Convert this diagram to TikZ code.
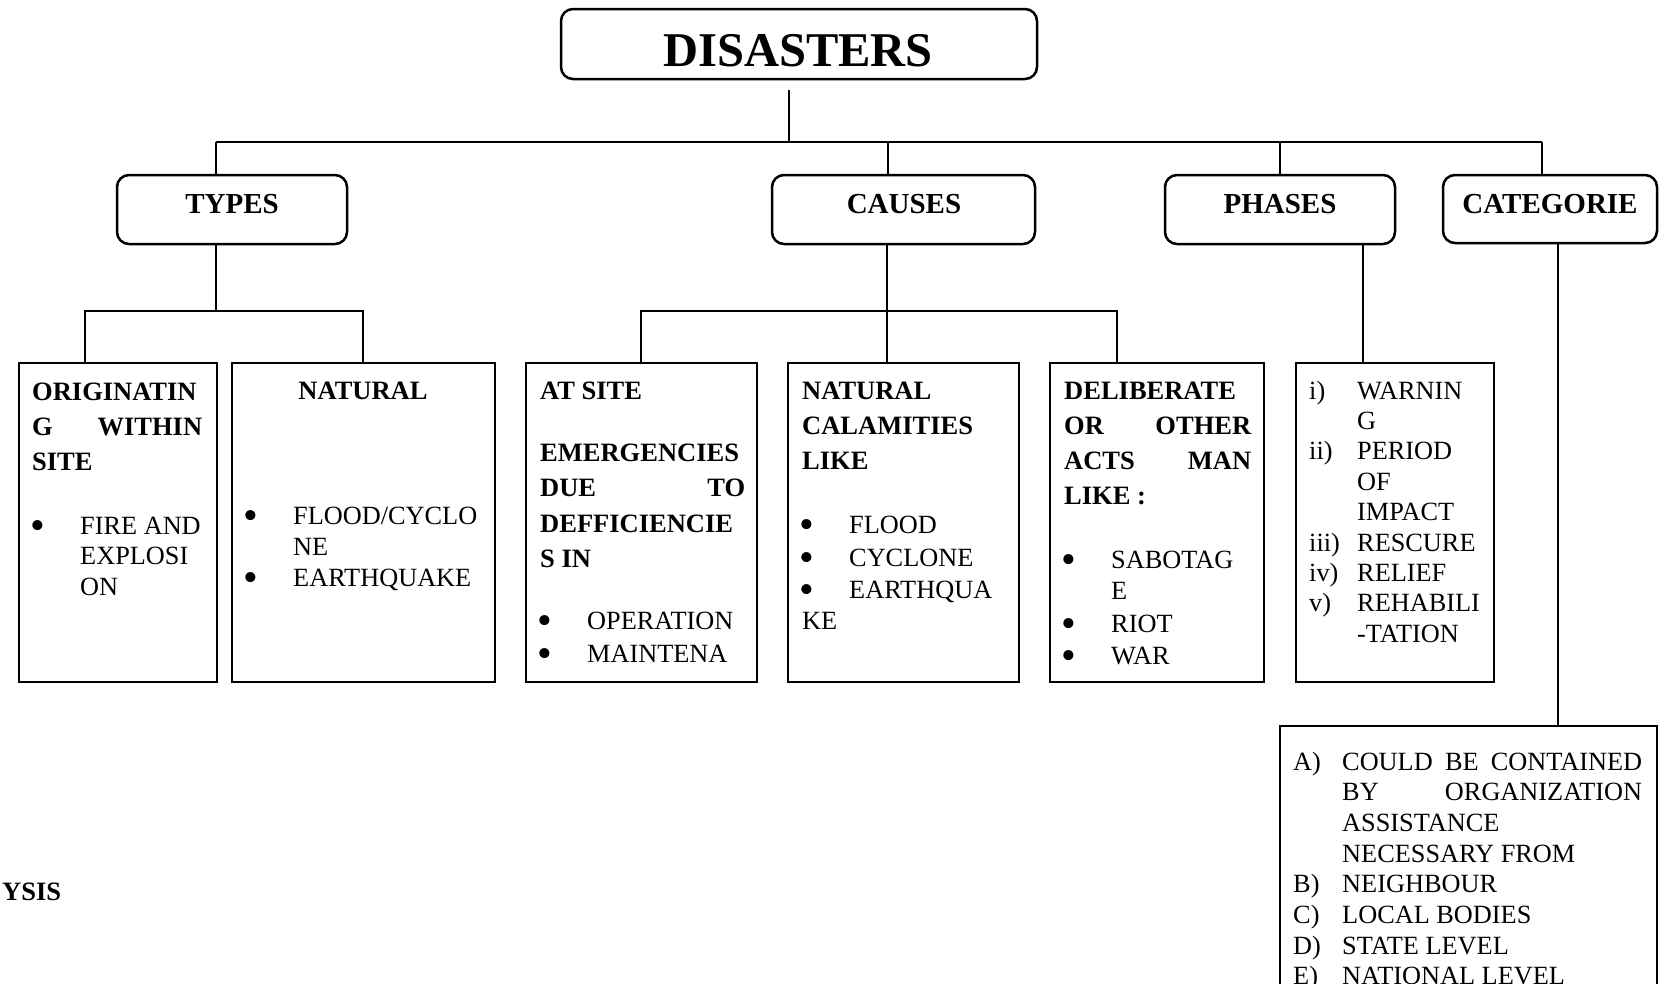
\documentclass[tikz,border=0pt]{standalone}
\usepackage{fontspec}
\setmainfont{Liberation Serif}
\newcommand\tline[5][txt]{\node[#1] (#2) at (#3,#4) {#5};}
\newcommand\jline[3]{\hbox to #1pt{#2\hfill #3}}
\newcommand\bigbul{\smash{\raisebox{-5pt}{\scalebox{1.6}{•}}}}
\begin{document}
\begin{tikzpicture}[x=1pt,y=-1pt,
  box/.style={draw, line width=2.5pt, inner sep=0pt, outer sep=0pt, anchor=north west},
  rbox/.style={box, rounded corners=12pt},
  con/.style={line width=2pt},
  txt/.style={anchor=base west, inner sep=0pt, font=\fontsize{26.3}{30}\selectfont},
  btxt/.style={txt, font=\fontsize{26.5}{30}\selectfont\bfseries},
  bul/.style={anchor=base, inner sep=0pt, font=\fontsize{26.3}{30}\selectfont},
  head/.style={anchor=base, inner sep=0pt, font=\fontsize{29}{32}\selectfont\bfseries}]
\useasboundingbox (0,0) rectangle (1659,983);
\clip (0,0) rectangle (1659,983);

% ---------- boxes ----------
\node[rbox, minimum width=476pt, minimum height=70pt] (dis) at (561,9) {};
\node[rbox, minimum width=230pt, minimum height=69pt] (types) at (117,175) {};
\node[rbox, minimum width=263pt, minimum height=69pt] (causes) at (772,175) {};
\node[rbox, minimum width=230pt, minimum height=69pt] (phases) at (1165,175) {};
\node[rbox, minimum width=214pt, minimum height=68pt] (categ) at (1443,175) {};

\node[box, minimum width=198pt, minimum height=319pt] (b1) at (19,363) {};
\node[box, minimum width=263pt, minimum height=319pt] (b2) at (232,363) {};
\node[box, minimum width=231pt, minimum height=319pt] (b3) at (526,363) {};
\node[box, minimum width=231pt, minimum height=319pt] (b4) at (788,363) {};
\node[box, minimum width=214pt, minimum height=319pt] (b5) at (1050,363) {};
\node[box, minimum width=198pt, minimum height=319pt] (b6) at (1296,363) {};
\node[box, minimum width=377pt, minimum height=300pt] (b7) at (1280,726) {};

% ---------- headings ----------
\node[anchor=base, inner sep=0pt, font=\fontsize{48.5}{50}\selectfont\bfseries] (dist) at (798,66) {DISASTERS};
\tline[head]{typest}{232}{213}{TYPES}
\tline[head]{causest}{904}{213}{CAUSES}
\tline[head]{phasest}{1280}{213}{PHASES}
\tline[head]{categt}{1550}{213}{CATEGORIE}

% ---------- connectors ----------
\coordinate (dstem) at (789,90);
\coordinate (busL) at (216,142);
\coordinate (busR) at (1542,142);
\coordinate (cdrop) at (888,142);
\coordinate (pdrop) at (1280,142);
\draw[con] (dstem) -- (dstem |- busL);
\draw[con] (busL) -- (busR);
\draw[con] (busL) -- (busL |- types.north);
\draw[con] (cdrop) -- (cdrop |- causes.north);
\draw[con] (pdrop) -- (pdrop |- phases.north);
\draw[con] (busR) -- (busR |- categ.north);

\coordinate (tj) at (216,311);
\coordinate (tL) at (85,311);
\coordinate (tR) at (363,311);
\draw[con] (types.south -| tj) -- (tj);
\draw[con] (tL |- b1.north) -- (tL) -- (tR) -- (tR |- b2.north);

\coordinate (cj) at (887,311);
\coordinate (cL) at (641,311);
\coordinate (cR) at (1117,311);
\draw[con] (causes.south -| cj) -- (cj |- b4.north);
\draw[con] (cL |- b3.north) -- (cL) -- (cR) -- (cR |- b5.north);

\coordinate (pj) at (1363,300);
\draw[con] (phases.south -| pj) -- (pj |- b6.north);

\coordinate (kj) at (1558,500);
\draw[con] (categ.south -| kj) -- (kj |- b7.north);

% ---------- box 1 ----------
\tline[btxt]{a1}{32}{400}{ORIGINATIN}
\tline[btxt]{a2}{32}{435}{\jline{170}{G}{WITHIN}}
\tline[btxt]{a3}{32}{470}{SITE}
\tline[bul]{a4}{38}{534}{\bigbul}
\tline{a5}{80}{534}{FIRE AND}
\tline{a6}{80}{564}{EXPLOSI}
\tline{a7}{80}{595}{ON}

% ---------- box 2 ----------
\node[anchor=base, inner sep=0pt, font=\fontsize{26.5}{30}\selectfont\bfseries] (n1) at (363,399) {NATURAL};
\tline[bul]{n2}{251}{524}{\bigbul}
\tline{n3}{293}{524}{FLOOD/CYCLO}
\tline{n4}{293}{555}{NE}
\tline[bul]{n5}{251}{586}{\bigbul}
\tline{n6}{293}{586}{EARTHQUAKE}

% ---------- box 3 ----------
\tline[btxt]{s1}{540}{399}{AT SITE}
\tline[btxt]{s2}{540}{461}{EMERGENCIES}
\tline[btxt]{s3}{540}{496}{\jline{205}{DUE}{TO}}
\tline[btxt]{s4}{540}{532}{DEFFICIENCIE}
\tline[btxt]{s5}{540}{567}{S IN}
\tline[bul]{s6}{545}{629}{\bigbul}
\tline{s7}{587}{629}{OPERATION}
\tline[bul]{s8}{545}{662}{\bigbul}
\tline{s9}{587}{662}{MAINTENA}

% ---------- box 4 ----------
\tline[btxt]{c1}{802}{399}{NATURAL}
\tline[btxt]{c2}{802}{434}{CALAMITIES}
\tline[btxt]{c3}{802}{469}{LIKE}
\tline[bul]{c4}{807}{533}{\bigbul}
\tline{c5}{849}{533}{FLOOD}
\tline[bul]{c6}{807}{566}{\bigbul}
\tline{c7}{849}{566}{CYCLONE}
\tline[bul]{c8}{807}{598}{\bigbul}
\tline{c9}{849}{598}{EARTHQUA}
\tline{c10}{802}{629}{KE}

% ---------- box 5 ----------
\tline[btxt]{d1}{1064}{399}{DELIBERATE}
\tline[btxt]{d2}{1064}{434}{\jline{187}{OR}{OTHER}}
\tline[btxt]{d3}{1064}{469}{\jline{187}{ACTS}{MAN}}
\tline[btxt]{d4}{1064}{504}{LIKE :}
\tline[bul]{d5}{1069}{568}{\bigbul}
\tline{d6}{1111}{568}{SABOTAG}
\tline{d7}{1111}{599}{E}
\tline[bul]{d8}{1069}{632}{\bigbul}
\tline{d9}{1111}{632}{RIOT}
\tline[bul]{d10}{1069}{664}{\bigbul}
\tline{d11}{1111}{664}{WAR}

% ---------- box 6 ----------
\tline{p1}{1309}{399}{i)}
\tline{p2}{1357}{399}{WARNIN}
\tline{p3}{1357}{429.4}{G}
\tline{p4}{1309}{459.8}{ii)}
\tline{p5}{1357}{459.8}{PERIOD}
\tline{p6}{1357}{490.2}{OF}
\tline{p7}{1357}{520.6}{IMPACT}
\tline{p8}{1309}{551}{iii)}
\tline{p9}{1357}{551}{RESCURE}
\tline{p10}{1309}{581.4}{iv)}
\tline{p11}{1357}{581.4}{RELIEF}
\tline{p12}{1309}{611.8}{v)}
\tline{p13}{1357}{611.8}{REHABILI}
\tline{p14}{1357}{642.2}{-TATION}

% ---------- box 7 ----------
\tline{k1}{1293}{770}{A)}
\tline{k2}{1342}{770}{\makebox[300pt][s]{COULD BE CONTAINED}}
\tline{k3}{1342}{800.7}{\jline{300}{BY}{ORGANIZATION}}
\tline{k4}{1342}{831.4}{ASSISTANCE}
\tline{k5}{1342}{862.1}{NECESSARY FROM}
\tline{k6}{1293}{892.8}{B)}
\tline{k7}{1342}{892.8}{NEIGHBOUR}
\tline{k8}{1293}{923.5}{C)}
\tline{k9}{1342}{923.5}{LOCAL BODIES}
\tline{k10}{1293}{954.2}{D)}
\tline{k11}{1342}{954.2}{STATE LEVEL}
\tline{k12}{1293}{984.9}{E)}
\tline{k13}{1342}{984.9}{NATIONAL LEVEL}

% ---------- stray text ----------
\tline[btxt]{ysis}{2}{900}{YSIS}
\end{tikzpicture}
\end{document}
